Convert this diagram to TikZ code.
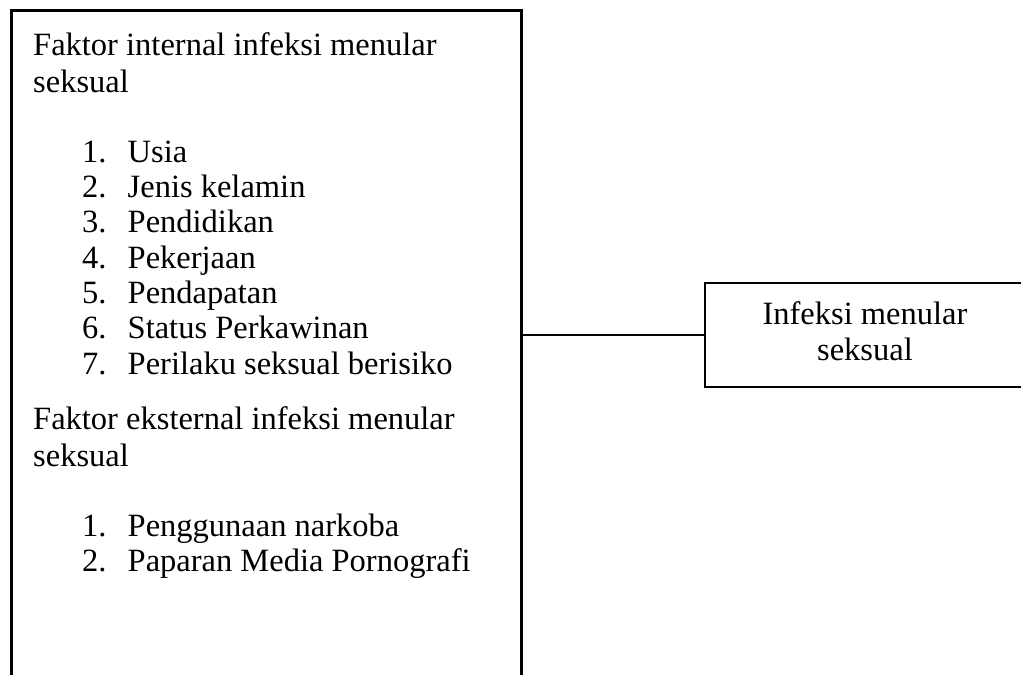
\documentclass[tikz,border=0pt]{standalone}
\usepackage{fontspec}
\setmainfont{Liberation Serif}
\usetikzlibrary{matrix}

\begin{document}
\begin{tikzpicture}[x=1pt,y=-1pt]
 \tikzset{frame/.style={draw, line width=#1, inner sep=0pt},
  frame/.default=2.6pt,
  heading/.style={anchor=base west, inner sep=0pt,
    font=\fontsize{32.5}{37}\selectfont},
  numbered list/.style={
    matrix of nodes,
    inner sep=0pt, anchor=north west,
    column sep=0pt, row sep=0pt,
    nodes={anchor=base west, inner sep=0pt,
      font=\fontsize{32.5}{35.3}\selectfont,
      text height=24pt, text depth=11.3pt},
    column 1/.style={nodes={text width=45.5pt}},
  },
}
\clip (0,0) rectangle (1021,675);
\node[frame, minimum width=510pt, minimum height=720pt, anchor=north west] (faktor) at (10,9) {};
\node[frame, minimum width=320pt, minimum height=104pt, align=center, text depth=8pt,
  font=\fontsize{32.5}{36}\selectfont] (ims) at (865,335) {Infeksi menular\\seksual};
\draw[line width=1.3pt] (ims.west) -- (ims.west -| faktor.east);

% faktor internal
\node[heading] (int1) at (33,55) {Faktor internal infeksi menular};
\node[heading] (int2) at (33,92) {seksual};
\matrix[numbered list] (intlist) at (82,138)
{
  1. & Usia \\
  2. & Jenis kelamin \\
  3. & Pendidikan \\
  4. & Pekerjaan \\
  5. & Pendapatan \\
  6. & Status Perkawinan \\
  7. & Perilaku seksual berisiko \\
};

% faktor eksternal
\node[heading] (ext1) at (33,429) {Faktor eksternal infeksi menular};
\node[heading] (ext2) at (33,466) {seksual};
\matrix[numbered list] (extlist) at (82,512)
{
  1. & Penggunaan narkoba \\
  2. & Paparan Media Pornografi \\
};
\end{tikzpicture}
\end{document}
